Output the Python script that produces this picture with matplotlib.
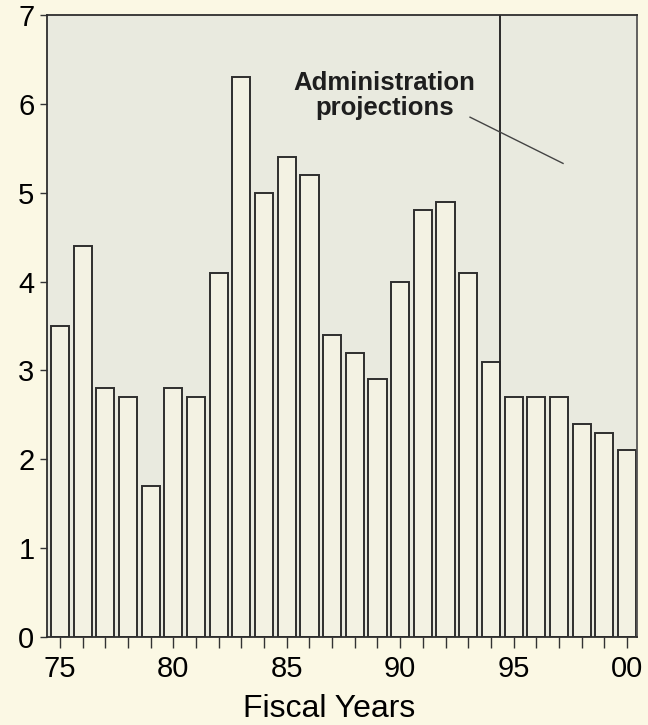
import matplotlib
matplotlib.use("Agg")
import matplotlib.pyplot as plt

# fiscal years 1975-2000 (plotted as 75..100)
years = list(range(75, 101))
values = [3.5, 4.4, 2.8, 2.7, 1.7, 2.8, 2.7, 4.1, 6.3, 5.0, 5.4, 5.2, 3.4,
          3.2, 2.9, 4.0, 4.8, 4.9, 4.1, 3.1, 2.7, 2.7, 2.7, 2.4, 2.3, 2.1]
major_ticks = [75, 80, 85, 90, 95, 100]
major_labels = ["75", "80", "85", "90", "95", "00"]
y_ticks = [0, 1, 2, 3, 4, 5, 6, 7]
projection_start = 94.4

plt.rcParams['font.family'] = ['Liberation Sans', 'DejaVu Sans']

fig = plt.figure(figsize=(6.48, 7.25), dpi=100, facecolor="#fbf8e4")
ax = fig.add_axes([0.0725, 0.1214, 0.9105, 0.8579])
ax.set_facecolor("#e9eadf")

ax.bar(years, values, width=0.8, color="#f3f2e3", edgecolor="#2e2e2e", linewidth=1.4)

# split between actual and projected years
ax.axvline(projection_start, color="#2a2a2a", linewidth=1.4)

ax.text(89.3, 6.09, "Administration\nprojections", ha="center", va="center",
        fontsize=18.5, fontweight="bold", color="#1e1e1e", linespacing=1.05)
ax.plot([93.08, 97.18], [5.85, 5.33], color="#444444", linewidth=1.0)

ax.set_xlim(74.43, 100.44)
ax.set_ylim(0, 7)

ax.set_xticks(major_ticks)
ax.set_xticklabels(major_labels)
ax.set_xticks(years, minor=True)
ax.set_yticks(y_ticks)

ax.tick_params(axis="x", which="both", direction="out", length=8, width=1.0,
               color="#333333", labelsize=21, pad=5)
ax.tick_params(axis="y", direction="out", length=5, width=1.0,
               color="#333333", labelsize=21, pad=4)

for side in ["left", "top", "right", "bottom"]:
    ax.spines[side].set_color("#2e2e2e")
    ax.spines[side].set_linewidth(1.3)
ax.spines["right"].set_color("#555555")

ax.set_xlabel("Fiscal Years", fontsize=23)
ax.xaxis.set_label_coords(0.478, -0.092)

fig.savefig("out.png", dpi=100, facecolor=fig.get_facecolor())
